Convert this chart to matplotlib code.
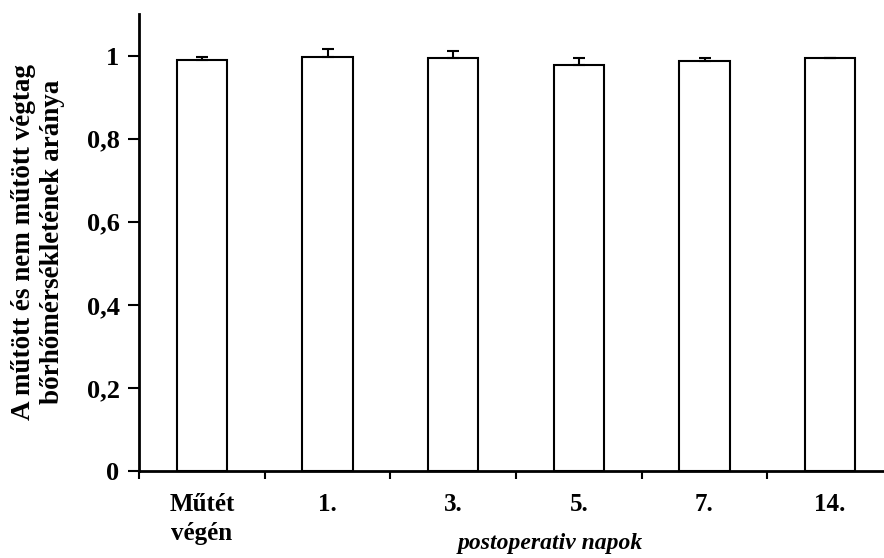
import matplotlib
matplotlib.use("Agg")
import matplotlib.pyplot as plt
import numpy as np

categories = ["Műtét\nvégén", "1.", "3.", "5.", "7.", "14."]
values = [0.989, 0.997, 0.993, 0.978, 0.986, 0.993]
errors_up = [0.007, 0.018, 0.019, 0.015, 0.007, 0.001]
yticks = [0, 0.2, 0.4, 0.6, 0.8, 1.0]
ytick_labels = ["0", "0,2", "0,4", "0,6", "0,8", "1"]

plt.rcParams['font.family'] = ['Liberation Serif', 'DejaVu Serif']
W, H = 884, 558
fig = plt.figure(figsize=(W/100, H/100), dpi=100)
ax = fig.add_axes([139/W, 1-471/H, (893-139)/W, (471-14)/H])

x = np.arange(len(categories))
ax.bar(x, values, width=0.4, color='white', edgecolor='black', linewidth=1.5,
       yerr=[np.zeros(len(values)), errors_up], capsize=4,
       error_kw=dict(ecolor='black', elinewidth=1.5, capthick=1.5), zorder=2)

ax.set_xlim(-0.5, len(categories) - 0.5)
ax.set_ylim(0, 1.10)
ax.set_yticks(yticks)
ax.set_yticklabels(ytick_labels, fontsize=19, fontweight='bold')
ax.set_xticks(x)
ax.set_xticklabels(categories, fontsize=18, fontweight='bold', linespacing=1.3)
ax.tick_params(axis='x', length=0, pad=16)
ax.set_xticks(np.arange(len(categories)) - 0.5, minor=True)
ax.tick_params(axis='x', which='minor', length=6, width=1.5, direction='out')
ax.tick_params(axis='y', length=8, width=1.5, direction='out', pad=6)

for s in ['top', 'right']:
    ax.spines[s].set_visible(False)
for s in ['left', 'bottom']:
    ax.spines[s].set_linewidth(2)

fig.text(38/W, 1-242/H, "A műtött és nem műtött végtag\nbőrhőmérsékletének aránya",
         rotation=90, ha='center', va='center', fontsize=19.5, fontweight='bold',
         linespacing=1.2)
fig.text(550/W, 1-543/H, "postoperativ napok", ha='center', va='center',
         fontsize=17, fontweight='bold', style='italic')

fig.savefig("out.png", dpi=100)
